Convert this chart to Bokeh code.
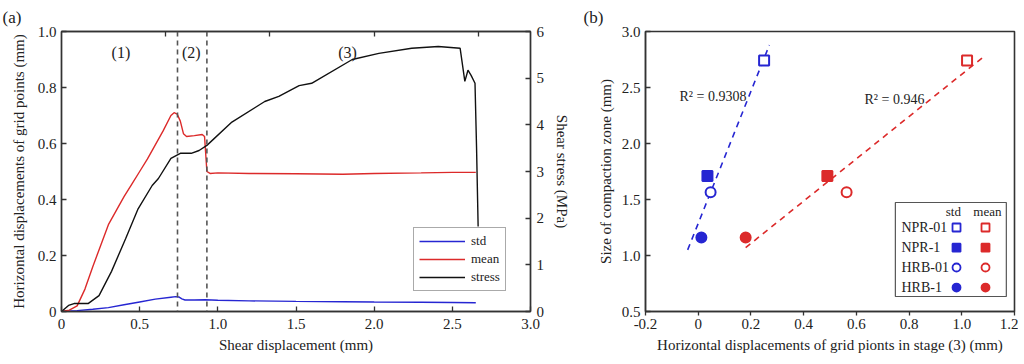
from bokeh.plotting import figure
from bokeh.models import (Range1d, LinearAxis, FixedTicker, Span, Legend, LegendItem,
                          Title)
from bokeh.layouts import row
from bokeh.embed import file_html
from bokeh.resources import INLINE
from bokeh.core.properties import value
import numpy as np

FONT = "Liberation Serif"
RED = "#dc2a2a"
BLUE = "#2626d2"
BLACK = "#111111"
AX = "#333333"

# ---------------- (a) data ----------------
mean_x = [0, 0.05, 0.1, 0.15, 0.2, 0.25, 0.3, 0.35, 0.4, 0.45, 0.5, 0.55, 0.6, 0.65, 0.7,
          0.72, 0.74, 0.76, 0.78, 0.8, 0.85, 0.9, 0.915, 0.93, 0.95, 1.0, 1.2, 1.5, 1.8,
          2.0, 2.3, 2.5, 2.65]
mean_y = [0, 0.005, 0.02, 0.08, 0.16, 0.235, 0.31, 0.36, 0.41, 0.455, 0.50, 0.545, 0.595,
          0.645, 0.70, 0.71, 0.705, 0.68, 0.635, 0.625, 0.628, 0.632, 0.625, 0.50, 0.493,
          0.495, 0.493, 0.492, 0.49, 0.493, 0.495, 0.497, 0.497]

std_x = [0, 0.1, 0.2, 0.3, 0.4, 0.5, 0.6, 0.7, 0.73, 0.75, 0.77, 0.79, 0.85, 0.92, 1.0,
         1.2, 1.5, 1.8, 2.0, 2.3, 2.5, 2.65]
std_y = [0, 0.003, 0.008, 0.014, 0.024, 0.034, 0.044, 0.051, 0.053, 0.052, 0.045, 0.041,
         0.041, 0.042, 0.04, 0.038, 0.036, 0.035, 0.034, 0.033, 0.032, 0.031]

stress_x = [0, 0.045, 0.08, 0.17, 0.24, 0.32, 0.41, 0.49, 0.58, 0.62, 0.70, 0.76, 0.83,
            0.88, 0.93, 1.09, 1.30, 1.39, 1.52, 1.6, 1.86, 2.03, 2.24, 2.41, 2.55, 2.58,
            2.60, 2.62, 2.645, 2.655, 2.665]
stress_y = [0, 0.13, 0.17, 0.17, 0.34, 0.86, 1.56, 2.2, 2.7, 2.85, 3.28, 3.39, 3.39, 3.45,
            3.56, 4.06, 4.5, 4.61, 4.84, 4.89, 5.4, 5.53, 5.64, 5.68, 5.64, 4.93, 5.17,
            5.06, 4.89, 3.5, 1.82]

stage_bounds = [0.742, 0.93]
stage_labels = ["(1)", "(2)", "(3)"]
stage_label_x = [0.38, 0.83, 1.83]
stage_label_y = [0.925, 0.925, 0.925]

x_ticks_a = [0, 0.5, 1.0, 1.5, 2.0, 2.5, 3.0]
y_ticks_a = [0, 0.2, 0.4, 0.6, 0.8, 1.0]
stress_ticks = [0, 1, 2, 3, 4, 5, 6]
top_ticks_a = [2 / 3, 4 / 3, 2.0, 8 / 3]

# ---------------- (b) data ----------------
samples = ["NPR-01", "NPR-1", "HRB-01", "HRB-1"]
sample_markers = ["square", "square", "circle", "circle"]
sample_filled = [False, True, False, True]
disp_std = [0.25, 0.035, 0.047, 0.012]
disp_mean = [1.02, 0.49, 0.563, 0.18]
zone_size = [2.74, 1.71, 1.565, 1.16]
fit_span_std = [-0.04, 0.27]
fit_span_mean = [0.18, 1.08]
r2_std_text = "R² = 0.9308"
r2_mean_text = "R² = 0.946"
x_ticks_b = [-0.2, 0, 0.2, 0.4, 0.6, 0.8, 1.0, 1.2]
y_ticks_b = [0.5, 1.0, 1.5, 2.0, 2.5, 3.0]

TICK_FS = "15px"
LABEL_FS = "15px"


def style_axis(ax, tick_in=5, tick_out=0):
    ax.axis_line_color = AX
    ax.axis_line_width = 1.4
    ax.major_tick_line_color = AX
    ax.major_tick_line_width = 1.3
    ax.major_tick_in = tick_in
    ax.major_tick_out = tick_out
    ax.minor_tick_line_color = None
    ax.major_label_text_font = FONT
    ax.major_label_text_font_size = TICK_FS
    ax.major_label_text_color = "#222222"
    ax.axis_label_text_font = FONT
    ax.axis_label_text_font_size = LABEL_FS
    ax.axis_label_text_font_style = "normal"
    ax.axis_label_text_color = "#222222"


def labels_for(ticks, zero="0", fmt="{:.1f}"):
    d = {}
    for t in ticks:
        d[t] = zero if t == 0 else fmt.format(t)
    return d


# ================= figure (a) =================
p1 = figure(frame_width=469, frame_height=280, min_border_left=61, min_border_right=48,
            min_border_top=29, min_border_bottom=41,
            x_range=Range1d(0, 3.0), y_range=Range1d(0, 1.0),
            output_backend="svg", toolbar_location=None)
p1.extra_y_ranges = {"stress": Range1d(0, 6)}
p1.grid.visible = False
p1.outline_line_color = AX
p1.outline_line_width = 1.4
p1.background_fill_color = "white"
p1.border_fill_color = "white"

xa = p1.below[0]
ya = p1.left[0]

ta = LinearAxis(ticker=FixedTicker(ticks=top_ticks_a))
ta.major_label_overrides = {t: "" for t in top_ticks_a}
style_axis(ta)
ta.major_label_standoff = 0
ta.major_label_text_font_size = "1px"
p1.add_layout(ta, "above")

t1 = Title(text="(a)", align="left", offset=-59, text_font=FONT, text_font_size="17px",
           text_font_style="normal", text_color="#222222")
p1.add_layout(t1, "above")

xa.ticker = FixedTicker(ticks=x_ticks_a)
xa.major_label_overrides = labels_for(x_ticks_a)
xa.axis_label = "Shear displacement (mm)"
style_axis(xa)
xa.major_label_standoff = 7
xa.axis_label_standoff = 5

ya.ticker = FixedTicker(ticks=y_ticks_a)
ya.major_label_overrides = labels_for(y_ticks_a)
ya.axis_label = "Horizontal displacements of grid points (mm)"
style_axis(ya)
ya.major_label_standoff = 5
ya.axis_label_standoff = 8

ra = LinearAxis(y_range_name="stress", ticker=FixedTicker(ticks=stress_ticks),
                axis_label="Shear stress (MPa)")
ra.major_label_overrides = {t: str(t) for t in stress_ticks}
style_axis(ra)
ra.major_label_standoff = 6
ra.axis_label_standoff = 7
p1.add_layout(ra, "right")

r_std = p1.line(std_x, std_y, line_color=BLUE, line_width=1.4)
r_mean = p1.line(mean_x, mean_y, line_color=RED, line_width=1.4)
r_stress = p1.line(stress_x, stress_y, line_color=BLACK, line_width=1.4, y_range_name="stress")

for b in stage_bounds:
    p1.add_layout(Span(location=b, dimension="height", line_color="#555555",
                       line_width=1.6, line_dash="5 4"))

p1.text(x=stage_label_x, y=stage_label_y, text=stage_labels, text_font=value(FONT),
        text_font_size="16px", text_align="center", text_baseline="middle",
        text_color="#222222")

leg1 = Legend(items=[LegendItem(label="std", renderers=[r_std]),
                     LegendItem(label="mean", renderers=[r_mean]),
                     LegendItem(label="stress", renderers=[r_stress])],
              location=(352, 20))
leg1.glyph_width = 46
leg1.glyph_height = 14
leg1.label_height = 14
leg1.spacing = 2
leg1.padding = 5
leg1.margin = 0
leg1.label_standoff = 6
leg1.label_text_font = FONT
leg1.label_text_font_size = "13px"
leg1.label_text_color = "#222222"
leg1.border_line_color = "#555555"
leg1.border_line_width = 1.2
p1.add_layout(leg1, "center")

# ================= figure (b) =================
p2 = figure(frame_width=369, frame_height=280, min_border_left=67, min_border_right=4,
            min_border_top=29, min_border_bottom=41,
            x_range=Range1d(-0.2, 1.2), y_range=Range1d(0.5, 3.0),
            output_backend="svg", toolbar_location=None)
p2.grid.visible = False
p2.outline_line_color = AX
p2.outline_line_width = 1.6
p2.background_fill_color = "white"
p2.border_fill_color = "white"

t2 = Title(text="(b)", align="left", offset=-62, text_font=FONT, text_font_size="17px",
           text_font_style="normal", text_color="#222222")
p2.add_layout(t2, "above")

xb = p2.below[0]
xb.ticker = FixedTicker(ticks=x_ticks_b)
xb.major_label_overrides = labels_for(x_ticks_b)
xb.axis_label = "Horizontal displacements of grid pionts in stage (3) (mm)"
style_axis(xb, tick_in=0, tick_out=4)
xb.major_label_standoff = 3
xb.axis_label_standoff = 5

yb = p2.left[0]
yb.ticker = FixedTicker(ticks=y_ticks_b)
yb.major_label_overrides = labels_for(y_ticks_b)
yb.axis_label = "Size of compaction zone (mm)"
style_axis(yb)
yb.major_label_standoff = 5
yb.axis_label_standoff = 5

# regression fits
k_s, b_s = np.polyfit(disp_std, zone_size, 1)
k_m, b_m = np.polyfit(disp_mean, zone_size, 1)
fx_s = np.array(fit_span_std)
fx_m = np.array(fit_span_mean)
p2.line(fx_s, k_s * fx_s + b_s, line_color=BLUE, line_width=1.6, line_dash="6 5")
p2.line(fx_m, k_m * fx_m + b_m, line_color=RED, line_width=1.6, line_dash="6 5")

for i in range(len(samples)):
    for xs, col in ((disp_std, BLUE), (disp_mean, RED)):
        p2.scatter([xs[i]], [zone_size[i]], marker=sample_markers[i], size=10,
                   line_color=col, line_width=2,
                   fill_color=col if sample_filled[i] else "white")

p2.text(x=[-0.071], y=[2.42], text=[r2_std_text], text_font=value(FONT),
        text_font_size="14px", text_baseline="middle", text_color="#222222")
p2.text(x=[0.631], y=[2.39], text=[r2_mean_text], text_font=value(FONT),
        text_font_size="14px", text_baseline="middle", text_color="#222222")

# two-column legend (std / mean)
leg_left, leg_right, leg_top, leg_bottom = 0.748, 1.169, 1.473, 0.634
p2.quad(left=[leg_left], right=[leg_right], top=[leg_top], bottom=[leg_bottom],
        fill_color="white", line_color="#555555", line_width=1.2)
head_y = 1.393
row_y = [1.25, 1.07, 0.893, 0.714]
col_std_x, col_mean_x, lab_x = 0.98, 1.09, 0.771
p2.text(x=[0.968, 1.097], y=[head_y, head_y], text=["std", "mean"], text_font=value(FONT),
        text_font_size="13px", text_align="center", text_baseline="middle",
        text_color="#222222")
p2.text(x=[lab_x] * 4, y=row_y, text=samples, text_font=value(FONT),
        text_font_size="14px", text_align="left", text_baseline="middle",
        text_color="#222222")
for i in range(len(samples)):
    for cx, col in ((col_std_x, BLUE), (col_mean_x, RED)):
        p2.scatter([cx], [row_y[i]], marker=sample_markers[i], size=8, line_color=col,
                   line_width=1.8, fill_color=col if sample_filled[i] else "white")

layout = row(p1, p2)
open("out.html", "w").write(file_html(layout, INLINE))
